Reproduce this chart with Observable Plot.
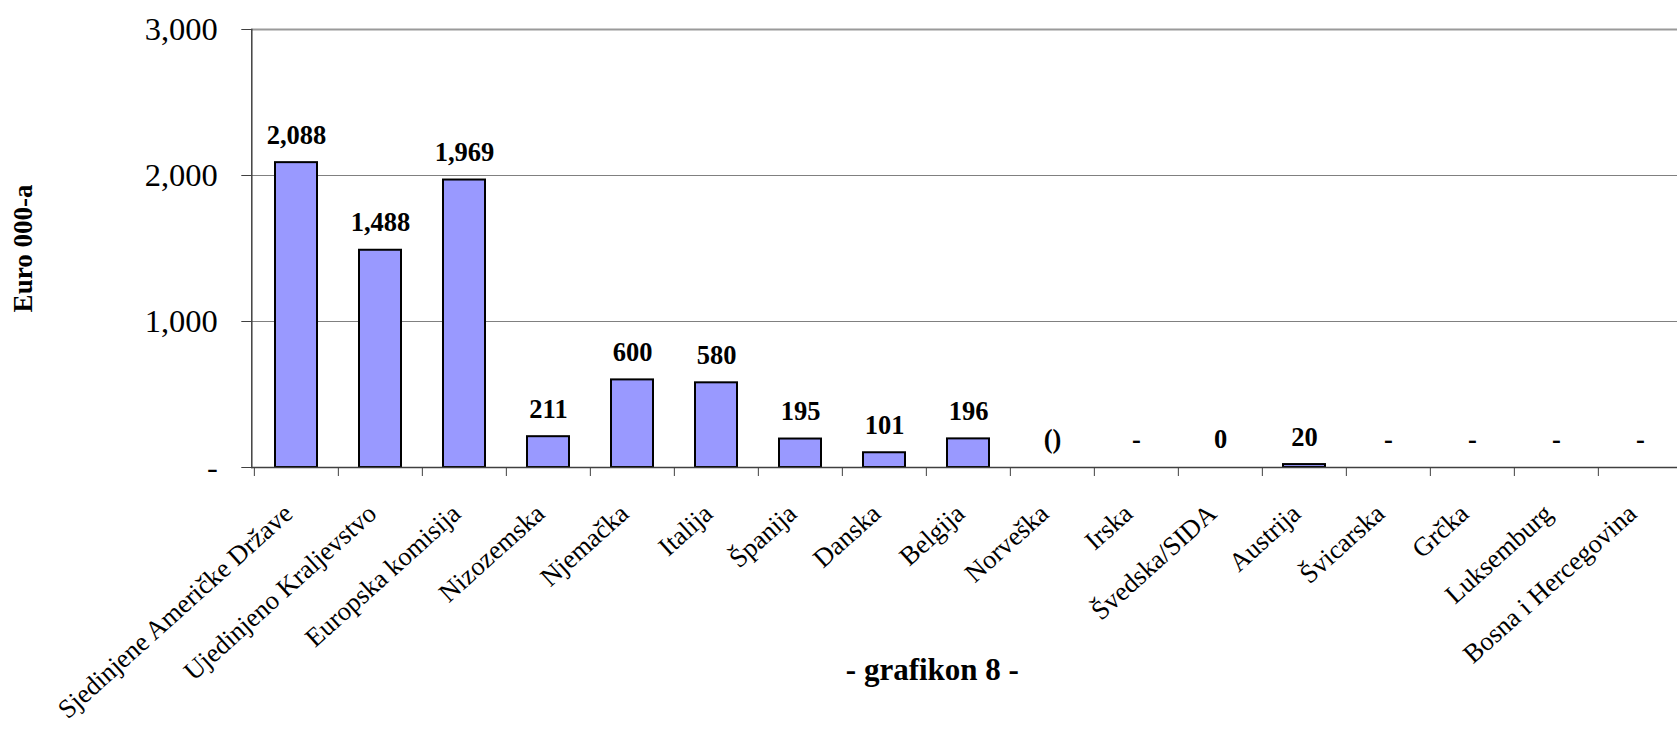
<!DOCTYPE html>
<html>
<head>
<meta charset="utf-8">
<script src="https://cdn.jsdelivr.net/npm/d3@7"></script>
<script src="https://cdn.jsdelivr.net/npm/@observablehq/plot@0.6"></script>
<style>
  html, body { margin: 0; padding: 0; background: white; overflow: hidden; }
  #chart svg { display: block; }
</style>
</head>
<body>
<div id="chart"></div>
<script>
const categories = [
  "Sjedinjene Američke Države", "Ujedinjeno Kraljevstvo", "Europska komisija",
  "Nizozemska", "Njemačka", "Italija", "Španija", "Danska", "Belgija",
  "Norveška", "Irska", "Švedska/SIDA", "Austrija", "Švicarska", "Grčka",
  "Luksemburg", "Bosna i Hercegovina"
];
const values = [2088, 1488, 1969, 211, 600, 580, 195, 101, 196, -0.3, 0, 0.3, 20, 0, 0, 0, 0];
const valueLabels = ["2,088", "1,488", "1,969", "211", "600", "580", "195", "101", "196", "()", "-", "0", "20", "-", "-", "-", "-"];
const yTicks = [0, 1000, 2000, 3000];
const yTickLabels = ["-", "1,000", "2,000", "3,000"];
const yLabel = "Euro 000-a";
const title = "- grafikon 8 -";

const data = categories.map((c, i) => ({cat: c, value: values[i], label: valueLabels[i]}));
const serif = "'Liberation Serif', 'Times New Roman', serif";

const W = 1677, H = 729;
const left = 251.3, right = 1684.4;
const step = (right - left) / categories.length;

const chart = Plot.plot({
  width: W,
  height: H,
  marginLeft: left,
  marginRight: W - right,
  marginTop: 29,
  marginBottom: H - 467,
  style: {fontFamily: serif, color: "black", background: "white", overflow: "hidden"},
  x: {domain: categories, paddingInner: 0.5, paddingOuter: 0.25},
  y: {domain: [0, 3000]},
  marks: [
    Plot.gridY(yTicks, {stroke: "#808080", strokeOpacity: 1}),
    Plot.ruleY([3000], {stroke: "#9a9a9a", strokeWidth: 2}),
    Plot.barY(data, {
      filter: d => Math.abs(d.value) >= 1,
      x: "cat", y: "value", fill: "#9999FF", stroke: "black", strokeWidth: 2
    }),
    Plot.ruleY([0], {stroke: "#404040", strokeWidth: 1.5}),
    Plot.frame({anchor: "left", stroke: "#404040", strokeWidth: 1.5}),
    Plot.axisY({
      ticks: yTicks,
      tickFormat: d => yTickLabels[yTicks.indexOf(d)],
      tickSize: 10, tickPadding: 24, fontSize: 32.5, fontFamily: serif,
      stroke: "#404040", label: null
    }),
    Plot.axisX({tickSize: 9, tickFormat: () => "", dx: -step / 2, stroke: "#404040", label: null}),
    Plot.axisX({
      tickSize: 0, tickRotate: -42, tickPadding: 42, dx: -8, fontSize: 26.5,
      fontFamily: serif, label: null
    }),
    Plot.text(data, {
      x: "cat", y: d => Math.max(0, d.value), text: "label", dy: -27.5,
      fontWeight: "bold", fontSize: 26.5, fontFamily: serif, fill: "black"
    }),
    Plot.text([title], {
      text: d => d, frameAnchor: "bottom", textAnchor: "middle", dy: 212, dx: -36,
      fontWeight: "bold", fontSize: 31, fontFamily: serif, fill: "black"
    }),
    Plot.text([yLabel], {
      text: d => d, frameAnchor: "left", textAnchor: "middle", dx: -228, rotate: -90,
      fontWeight: "bold", fontSize: 27, fontFamily: serif, fill: "black"
    })
  ]
});
document.getElementById("chart").appendChild(chart);
</script>
</body>
</html>
